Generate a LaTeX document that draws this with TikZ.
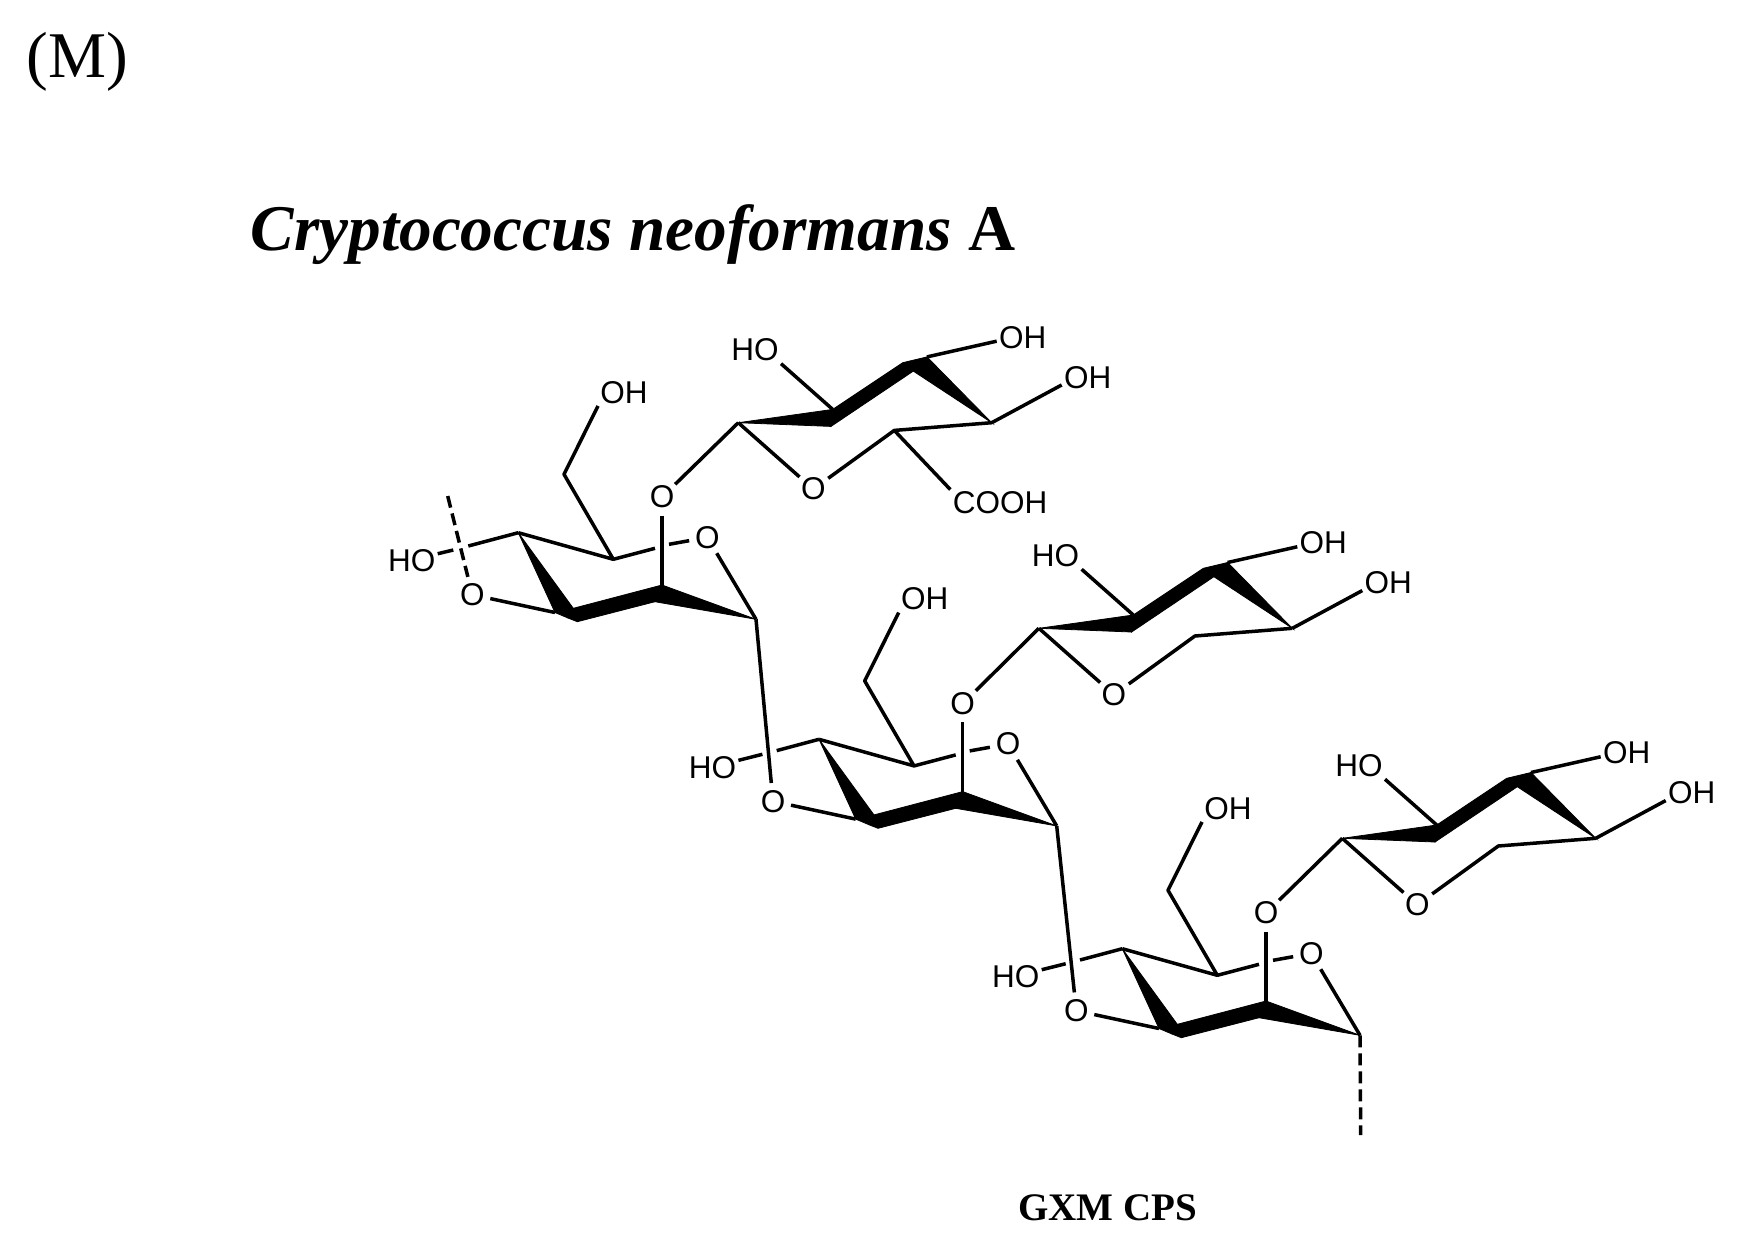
\documentclass[tikz,border=0pt]{standalone}
\usepackage{fontspec}
\setmainfont{Liberation Serif}
\newfontfamily\chemfont{Liberation Sans}
\tikzset{
  bond/.style={line width=1.75pt,line cap=butt,line join=round},
  dbond/.style={line width=1.75pt,dash pattern=on 6pt off 3pt},
  wedge/.style={fill=black,draw=black,line width=0.4pt,line join=miter},
  oatom/.style={circle,inner sep=0pt,minimum size=18pt,yshift=-0.7pt,font=\chemfont\fontsize{15.75pt}{18pt}\selectfont},
  lab/.style={rectangle,inner sep=1pt,yshift=-0.7pt,font=\chemfont\fontsize{15.75pt}{18pt}\selectfont},
  heading/.style={inner sep=0pt,anchor=base west}
}
% sugar in the chain: #1 prefix, #2 dx, #3 dy, #4 and #5 ends of the gap in the C-OH bond
\newcommand{\chainunit}[5]{%
\begin{scope}[shift={(#2,#3)}]
  \coordinate (#1-Ca) at (518.3,532.7);
  \coordinate (#1-Cb) at (613.3,559.3);
  \coordinate (#1-Cm) at (564,474.3);
  \coordinate (#1-C3) at (662,585);
  \coordinate (#1-C3l) at (655,601.7);
  \coordinate (#1-C1) at (756,619.3);
  \coordinate (#1-Ct) at (573.3,608.3);
  \coordinate (#1-Cd) at (577.3,621.7);
  \coordinate (#1-Cl) at (555,612.5);
  \coordinate (#1-Cq) at (568,618);
  \coordinate (#1-GL) at (655,548.3);
  \coordinate (#1-GR) at (669,544.3);
  \coordinate (#1-HL) at #4;
  \coordinate (#1-HR) at #5;
  \node[lab] (#1-OHm) at (624,391) {OH};
  \node[oatom] (#1-O3) at (662,495.7) {O};
  \node[oatom] (#1-O5) at (707.3,536) {O};
  \node[oatom] (#1-O1) at (472.3,593.3) {O};
  \node[lab] (#1-HO) at (411.7,559.3) {HO};
  \fill[wedge] (#1-Ca) -- (#1-Ct) -- (#1-Cq) -- (#1-Cl) -- cycle;
  \fill[wedge] (#1-Ct) -- (#1-C3) -- (#1-C3l) -- (#1-Cd) -- (#1-Cq) -- cycle;
  \fill[wedge] (#1-C3) -- (#1-C1) -- (#1-C3l) -- cycle;
  \draw[bond] (#1-O1) -- (#1-Cl);
  \draw[bond] (#1-OHm.south west) -- (#1-Cm) -- (#1-Cb) -- (#1-Ca);
  \draw[bond] (#1-Ca) -- (#1-HR);
  \draw[bond] (#1-HL) -- (#1-HO.15);
  \draw[bond] (#1-Cb) -- (#1-GL);
  \draw[bond] (#1-GR) -- (#1-O5);
  \draw[bond] (#1-O5) -- (#1-C1);
  \draw[bond] (#1-O3) -- (#1-C3);
\end{scope}}
% side sugar: #1 prefix, #2 dx, #3 dy
\newcommand{\sideunit}[3]{%
\begin{scope}[shift={(#2,#3)}]
  \coordinate (#1-A) at (1342.3,838.3);
  \coordinate (#1-Ct) at (1436.7,825);
  \coordinate (#1-Cb) at (1435,842);
  \coordinate (#1-Co) at (1506.7,778.3);
  \coordinate (#1-Ch) at (1531,772.5);
  \coordinate (#1-Ci) at (1517.3,786.7);
  \coordinate (#1-C4) at (1595.7,838.3);
  \coordinate (#1-C5) at (1498.3,846);
  \node[oatom] (#1-O) at (1417.3,903.3) {O};
  \node[lab] (#1-HO) at (1359,764.3) {HO};
  \node[lab] (#1-OHt) at (1626.7,751.7) {OH};
  \node[lab] (#1-OHr) at (1691.7,791.7) {OH};
  \fill[wedge] (#1-A) -- (#1-Ct) -- (#1-Cb) -- cycle;
  \fill[wedge] (#1-Ct) -- (#1-Co) -- (#1-Ch) -- (#1-Ci) -- (#1-Cb) -- cycle;
  \fill[wedge] (#1-Ch) -- (#1-C4) -- (#1-Ci) -- cycle;
  \draw[bond] (#1-HO.south east) -- (#1-Ct);
  \draw[bond] (#1-Ch) -- (#1-OHt.188);
  \draw[bond] (#1-C4) -- (#1-OHr.196);
  \draw[bond] (#1-A) -- (#1-O);
  \draw[bond] (#1-O) -- (#1-C5) -- (#1-C4);
\end{scope}}
\begin{document}
\begin{tikzpicture}[x=0.5pt,y=-0.5pt]
\useasboundingbox (0,0) rectangle (1746,1249);
\node[heading,font=\fontsize{32.6pt}{36pt}\selectfont] (panel) at (26,77) {(M)};
\node[heading,font=\fontsize{32.6pt}{38pt}\selectfont\bfseries] (title) at (250.5,250) {\textit{Cryptococcus neoformans} A};
\node[heading,font=\fontsize{19.5pt}{22pt}\selectfont\bfseries] (caption) at (1018,1220) {GXM CPS};

\chainunit{u1}{0}{0}{(453.3,550)}{(468.3,546)}
\chainunit{u2}{300.7}{206.6}{(461.7,547.7)}{(476,544)}
\chainunit{u3}{604}{416}{(461.7,547.7)}{(476,544)}

\sideunit{s3}{0}{0}
\sideunit{s2}{-303.4}{-210}
\sideunit{s1}{-604}{-415.6}

% COOH of the top sugar
\node[lab] (cooh) at (1000,501.7) {COOH};
\draw[bond] (s1-C5) -- (cooh.north west);

% glycosidic links
\draw[bond] (u1-O3) -- (s1-A);
\draw[bond] (u2-O3) -- (s2-A);
\draw[bond] (u3-O3) -- (s3-A);
\draw[bond] (u1-C1) -- (u2-O1);
\draw[bond] (u2-C1) -- (u3-O1);

% chain ends
\coordinate (endtop) at (447.7,496);
\coordinate (endbot) at (1360.7,1135);
\draw[dbond] (endtop) -- (u1-O1);
\draw[dbond] (u3-C1) -- (endbot);
\end{tikzpicture}
\end{document}
